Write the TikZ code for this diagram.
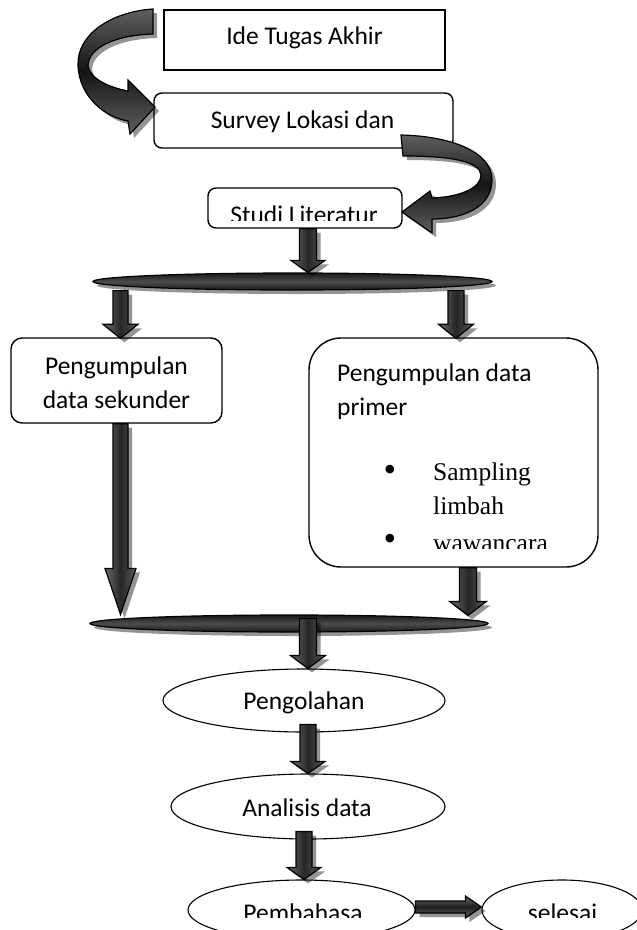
\documentclass[tikz,border=0pt]{standalone}
\usepackage{fontspec}
\setmainfont{Carlito}
\newfontfamily\tnr{Liberation Serif}
\usetikzlibrary{calc,shadows,shapes.geometric}

\tikzset{
  shd/.style={drop shadow={shadow xshift=4pt, shadow yshift=-4pt, fill=black, opacity=0.42}},
  box/.style={draw=black, line width=1.4pt, fill=white, inner sep=0pt},
  rbox/.style={box, rounded corners=#1},
  oval/.style={draw=black, line width=1.1pt, ellipse, fill=white, inner sep=0pt},
  lbl/.style={font=\fontsize{25.5}{30}\selectfont, inner sep=0pt, anchor=base},
  lblw/.style={lbl, anchor=base west},
  tlbl/.style={font=\tnr\fontsize{25.5}{30}\selectfont, inner sep=0pt, anchor=base west},
  bulst/.style={font=\tnr\fontsize{36}{30}\selectfont, inner sep=0pt, anchor=center},
  blk/.style={shd, draw=black, line width=1.2pt, line join=miter,
    left color=gray!85!black, right color=gray!70!black, middle color=black!85},
  hblk/.style={shd, draw=black, line width=1.2pt, line join=miter,
    top color=gray!80!black, bottom color=gray!80!black, middle color=black!88},
  barst/.style={shd, draw=black, line width=1.2pt, ellipse, inner sep=0pt,
    top color=black!90, bottom color=black!90, middle color=gray!60!black},
  curv/.style={shd, draw=black, line width=1.2pt, line join=miter,
    top color=gray!75!black, bottom color=gray!75!black, middle color=black!92},
}

% vertical block arrow: start, tip, shaft half width, head half width, head length
\newcommand\vblock[5]{%
  \path (#1) coordinate (vbS) (#2) coordinate (vbT);
  \draw[blk] ($(vbT|-vbS)+(-#3,0)$) -- ($(vbT)+(-#3,-#5)$) -- ($(vbT)+(-#4,-#5)$)
    -- (vbT) -- ($(vbT)+(#4,-#5)$) -- ($(vbT)+(#3,-#5)$) -- ($(vbT|-vbS)+(#3,0)$) -- cycle;}
% horizontal block arrow
\newcommand\hblock[5]{%
  \path (#1) coordinate (hbS) (#2) coordinate (hbT);
  \draw[hblk] ($(hbT-|hbS)+(0,-#3)$) -- ($(hbT)+(-#5,-#3)$) -- ($(hbT)+(-#5,-#4)$)
    -- (hbT) -- ($(hbT)+(-#5,#4)$) -- ($(hbT)+(-#5,#3)$) -- ($(hbT-|hbS)+(0,#3)$) -- cycle;}

\begin{document}
\begin{tikzpicture}[x=1pt, y=-1pt]
\useasboundingbox (0,0) rectangle (637,930);

% ---- boxes ----
\node[box, minimum width=281pt, minimum height=60pt] (ide) at (304.5,40) {};
\node[rbox=8pt, minimum width=299pt, minimum height=55pt] (survey) at (303.5,120.5) {};
\node[rbox=8pt, minimum width=194pt, minimum height=40pt] (studi) at (305,208) {};
\node[rbox=11pt, minimum width=211pt, minimum height=85pt] (sek) at (116.5,380.5) {};
\node[rbox=32pt, minimum width=289pt, minimum height=229pt] (prim) at (453.5,452.5) {};

% ---- ellipses ----
\node[oval, minimum width=282pt, minimum height=63pt] (peng) at (304,700.5) {};
\node[oval, minimum width=274pt, minimum height=65pt] (anal) at (308,806.5) {};
\node[oval, minimum width=227pt, minimum height=60pt] (pemb) at (301.5,910) {};
\node[oval, minimum width=160pt, minimum height=60pt] (sel) at (562,910) {};

% ---- bars ----
\node[barst, minimum width=399pt, minimum height=17pt] (bar1) at (292.5,281.5) {};
\node[barst, minimum width=398pt, minimum height=17pt] (bar2) at (289,623.5) {};

% ---- texts ----
\node[lbl] (tide) at (304.5,44) {Ide Tugas Akhir};
\node[lbl] (tsurvey) at (302.5,128) {Survey Lokasi dan};
\begin{scope}
  \clip (0,150) rectangle (637,220);
  \node[lbl] (tstudi) at (304,223) {Studi Literatur};
\end{scope}
\node[lbl] (tsek1) at (116.5,374) {Pengumpulan};
\node[lbl] (tsek2) at (116.5,408) {data sekunder};
\node[lblw] (tprim1) at (337,381) {Pengumpulan data};
\node[lblw] (tprim2) at (337,415) {primer};
\node[bulst] (bul1) at (390,473) {•};
\node[tlbl] (tsamp) at (433,480) {Sampling};
\node[tlbl] (tlimb) at (433,514) {limbah};
\node[bulst] (bul2) at (390,542) {•};
\begin{scope}
  \clip (400,520) rectangle (600,548);
  \node[tlbl] (twaw) at (433,551) {wawancara};
\end{scope}
\node[lbl] (tpeng) at (304,709) {Pengolahan};
\node[lbl] (tanal) at (307,816) {Analisis data};
\begin{scope}
  \clip (0,880) rectangle (637,917);
  \node[lbl] (tpemb) at (303,921) {Pembahasa};
  \node[lbl] (tsel) at (562.5,921) {selesai};
\end{scope}

% ---- curved arrows ----
\draw[curv] (153,9) .. controls (110,12) and (77,35) .. (78,65)
  .. controls (79,97) and (105,117) .. (128,121)
  -- (130,134) -- (155,107) -- (128,80) -- (128,91)
  .. controls (107,87) and (90,78) .. (88,66)
  .. controls (88,48) and (115,35) .. (153,34) -- cycle;
\draw[curv] (401,135) .. controls (447,136) and (492,150) .. (492,180)
  .. controls (492,206) and (465,219) .. (432,219)
  -- (432,233) -- (402,212) -- (430,191) -- (432,198)
  .. controls (460,197) and (481,188) .. (481,175)
  .. controls (480,161) and (450,156) .. (403,156) -- cycle;

% ---- straight block arrows ----
\vblock{studi.south}{$(bar1.north)+(15.5,0)$}{8.5}{17}{12}
\vblock{bar1.south}{$(sek.north)+(4,1)$}{7.5}{17.5}{14}
\vblock{bar1.south}{$(prim.north)+(2.5,1)$}{8}{17.5}{14}
\vblock{sek.south}{$(sek.south|-bar2.north)+(4,0)$}{7.5}{15.5}{46}
\vblock{prim.south}{$(prim.south|-bar2.north)+(14.5,1)$}{8.5}{18.5}{14}
\vblock{$(bar2.center)+(0,-5)$}{$(peng.north)+(4,0)$}{8.5}{17.5}{13}
\vblock{$(peng.south)+(0,-8)$}{anal.north}{8}{17}{12}
\vblock{$(anal.south)+(0,-8)$}{$(pemb.north)+(2.5,0)$}{8}{17}{12}
\hblock{$(pemb.east)+(0,-3)$}{$(sel.west)+(0,-3)$}{6}{11}{16}
\end{tikzpicture}
\end{document}
